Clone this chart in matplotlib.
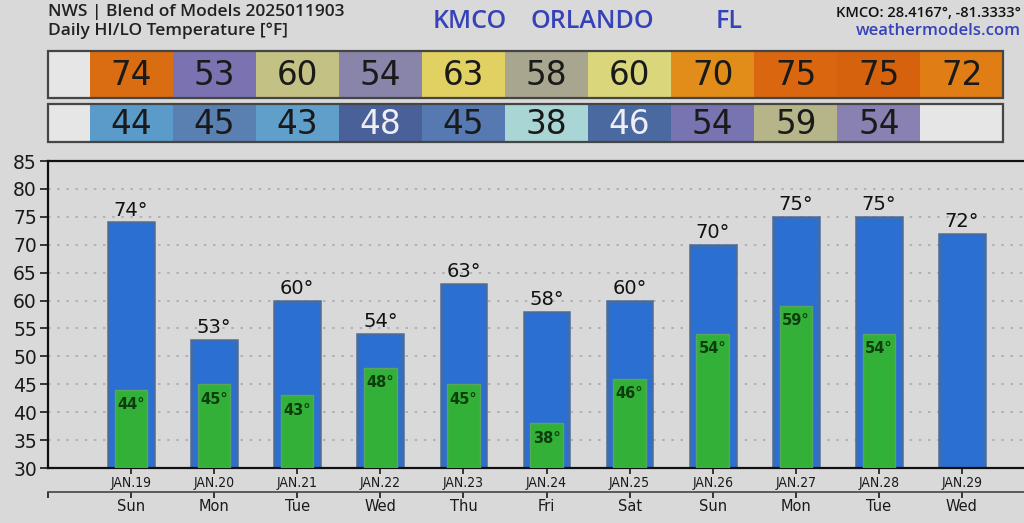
import numpy as np
import matplotlib
matplotlib.use("Agg")
import matplotlib.pyplot as plt

dates = ["JAN.19", "JAN.20", "JAN.21", "JAN.22", "JAN.23", "JAN.24",
         "JAN.25", "JAN.26", "JAN.27", "JAN.28", "JAN.29"]
days = ["Sun", "Mon", "Tue", "Wed", "Thu", "Fri", "Sat", "Sun", "Mon", "Tue", "Wed"]
highs = [74, 53, 60, 54, 63, 58, 60, 70, 75, 75, 72]
lows = [44, 45, 43, 48, 45, 38, 46, 54, 59, 54]

high_colors = ["#da6c12", "#7b73b1", "#c3c184", "#8985aa", "#e1d163", "#a9a690",
               "#d9d67c", "#e28c1a", "#da670f", "#d6620d", "#e07d15"]
low_colors = ["#5b9bc9", "#5a80b1", "#619fcb", "#4a6099", "#5679b1", "#a9d5d5",
              "#4b69a1", "#7873b1", "#b5b589", "#8881b1"]
low_text = ["#1a1a1a", "#1a1a1a", "#1a1a1a", "#eeeef4", "#1a1a1a", "#1a1a1a",
            "#eeeef4", "#1a1a1a", "#1a1a1a", "#1a1a1a"]

BG = "#d9d9d9"
W, H = 1024, 523

fig = plt.figure(figsize=(W / 100, H / 100), dpi=100, facecolor=BG)


def px_axes(left, top, right, bottom):
    return fig.add_axes([left / W, 1 - bottom / H, (right - left) / W, (bottom - top) / H])


x = np.arange(len(highs))
xlim = (-1, 11)


def cell_row(ax, values, colors, tcolors, nfull):
    ax.set_xlim(*xlim)
    ax.set_ylim(0, 1)
    ax.axis("off")
    # empty light cells at both ends, then colored cells
    ax.bar([-0.75], [1], width=0.5, color="#e6e6e6", align="center")
    ax.bar(np.arange(len(values)), [1] * len(values), width=1.0, color=colors)
    if len(values) < nfull:
        ax.bar(np.arange(len(values), nfull), [1] * (nfull - len(values)), width=1.0,
               color="#e6e6e6")
    ax.add_patch(plt.Rectangle((-1, 0), nfull + 0.5, 1, fill=False, edgecolor="#454545",
                               linewidth=1.6, transform=ax.transData, clip_on=False))
    for i, v in enumerate(values):
        ax.text(i, 0.47, str(v), ha="center", va="center", fontsize=23.5,
                color=tcolors[i])


ax1 = px_axes(48, 51, 1045, 98)
cell_row(ax1, highs, high_colors, ["#1a1a1a"] * len(highs), len(highs))
ax2 = px_axes(48, 104, 1045, 142)
cell_row(ax2, lows, low_colors, low_text, len(highs))

ax = px_axes(48, 161, 1045, 468)
ax.set_facecolor(BG)
ax.set_xlim(*xlim)
ax.set_ylim(30, 85)
ax.set_yticks(np.arange(30, 86, 5))
for yv in np.arange(35, 85, 5):
    ax.axhline(yv, color="#ababab", linestyle=(0, (1.5, 4)), linewidth=1.2, zorder=0)

ax.bar(x, np.array(highs) - 30, bottom=30, width=0.55, color="#2c6fd3",
       edgecolor="#4a6c9c", linewidth=1.8, zorder=2)
ax.bar(x[:len(lows)], np.array(lows) - 30, bottom=30, width=0.39, color="#33b038",
       edgecolor="#58a65c", linewidth=1.0, zorder=3)

for i, v in enumerate(highs):
    ax.text(i, v + 0.5, f"{v}°", ha="center", va="bottom", fontsize=14,
            color="#111111", zorder=4)
for i, v in enumerate(lows):
    ax.text(i, v - 1.3, f"{v}°", ha="center", va="top", fontsize=10.5,
            fontweight="bold", color="#0d3d0d", zorder=4)

for s in ["left", "bottom", "top"]:
    ax.spines[s].set_linewidth(1.6)
    ax.spines[s].set_color("#111111")
ax.spines["right"].set_visible(False)

ax.set_xticks(x)
ax.set_xticklabels(dates)
ax.tick_params(axis="x", length=4, width=1.2, labelsize=10, pad=2, colors="#1a1a1a")
ax.tick_params(axis="y", length=6, width=1.2, labelsize=13.5, pad=2, colors="#1a1a1a")
for lab in ax.get_xticklabels():
    lab.set_fontstretch("condensed")

sec = ax.secondary_xaxis(-0.078)
sec.set_xticks(list(np.arange(-1, len(days))))
sec.set_xticklabels([""] + days)
sec.spines["bottom"].set_linewidth(1.2)
sec.spines["bottom"].set_color("#444444")
sec.tick_params(axis="x", length=4, width=1.2, labelsize=10.5, pad=1, colors="#1a1a1a")

hdr = ["Open Sans", "DejaVu Sans"]
fig.text(48 / W, 1 - 12 / H, "NWS | Blend of Models 2025011903", fontsize=12.5,
         family=hdr, color="#222222", va="center", fontweight="semibold")
fig.text(48 / W, 1 - 31 / H, "Daily HI/LO Temperature [°F]", fontsize=12.5,
         family=hdr, color="#222222", va="center", fontweight="semibold")
for xp, word in [(433, "KMCO"), (530, "ORLANDO"), (716, "FL")]:
    fig.text(xp / W, 1 - 22 / H, word, fontsize=18, family=hdr, color="#3643b8",
             va="center", fontweight="semibold")
fig.text(1021 / W, 1 - 13 / H, "KMCO: 28.4167°, -81.3333°", fontsize=10.5,
         family=hdr, color="#111111", va="center", ha="right", fontweight="semibold")
fig.text(1021 / W, 1 - 31 / H, "weathermodels.com", fontsize=12,
         family=hdr, color="#3643b8", va="center", ha="right", fontweight="semibold")

fig.savefig("out.png", dpi=100, facecolor=BG)
